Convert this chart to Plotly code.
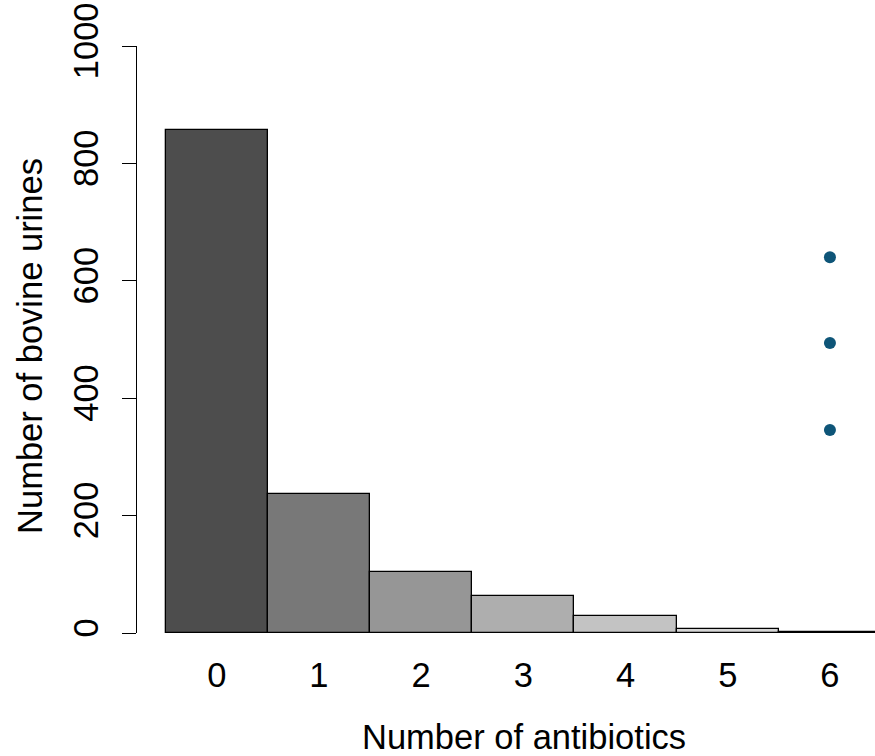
import plotly.graph_objects as go

categories = ["0", "1", "2", "3", "4", "5", "6"]
counts = [857, 237, 104, 63, 29, 7, 2]
bar_colors = ["#4D4D4D", "#787878", "#969696", "#AEAEAE", "#C3C3C3", "#D5D5D5", "#E6E6E6"]
dot_x = ["6", "6", "6"]
dot_y = [640, 494, 346]
y_ticks = [0, 200, 400, 600, 800, 1000]

FONT = "Liberation Sans, Arial, sans-serif"
FS = 34.5

fig = go.Figure()
fig.add_trace(go.Bar(
    x=categories, y=counts,
    marker=dict(color=bar_colors, line=dict(color="black", width=1.3)),
    width=1.0, cliponaxis=False, showlegend=False, hoverinfo="skip",
))
fig.add_trace(go.Scatter(
    x=dot_x, y=dot_y, mode="markers",
    marker=dict(size=12, color="#0E5578"),
    showlegend=False, cliponaxis=False, hoverinfo="skip",
))

fig.update_layout(
    width=875, height=756,
    margin=dict(l=137, r=0, t=46, b=123),
    paper_bgcolor="white", plot_bgcolor="white",
    bargap=0,
    font=dict(family=FONT, size=FS, color="black"),
    xaxis=dict(
        type="category", categoryorder="array", categoryarray=categories,
        range=[-0.78, 6.441], showline=False, showgrid=False, zeroline=False,
        ticks="", ticklabelstandoff=18, automargin=False,
        tickfont=dict(family=FONT, size=FS, color="black"),
    ),
    yaxis=dict(
        range=[0, 1000], tickvals=y_ticks, ticktext=[str(v) for v in y_ticks],
        showline=True, linecolor="black", linewidth=1.3,
        ticks="outside", ticklen=14, tickwidth=1.3, tickcolor="black",
        tickangle=-90, ticklabelstandoff=10, ticklabeloverflow="allow",
        showgrid=False, zeroline=False, automargin=False,
        tickfont=dict(family=FONT, size=FS, color="black"),
    ),
    annotations=[
        dict(text="Number of antibiotics", xref="paper", yref="paper",
             x=0.525, y=0, yshift=-104, xanchor="center", yanchor="middle",
             showarrow=False, font=dict(family=FONT, size=FS, color="black")),
        dict(text="Number of bovine urines", xref="paper", yref="paper",
             x=0, y=0.489, xshift=-107, xanchor="center", yanchor="middle",
             textangle=-90, showarrow=False,
             font=dict(family=FONT, size=FS, color="black")),
    ],
)

fig.write_html(
    "out.html",
    config={"displayModeBar": False},
    post_script="document.body.style.margin='0';document.body.style.overflow='hidden';",
)
